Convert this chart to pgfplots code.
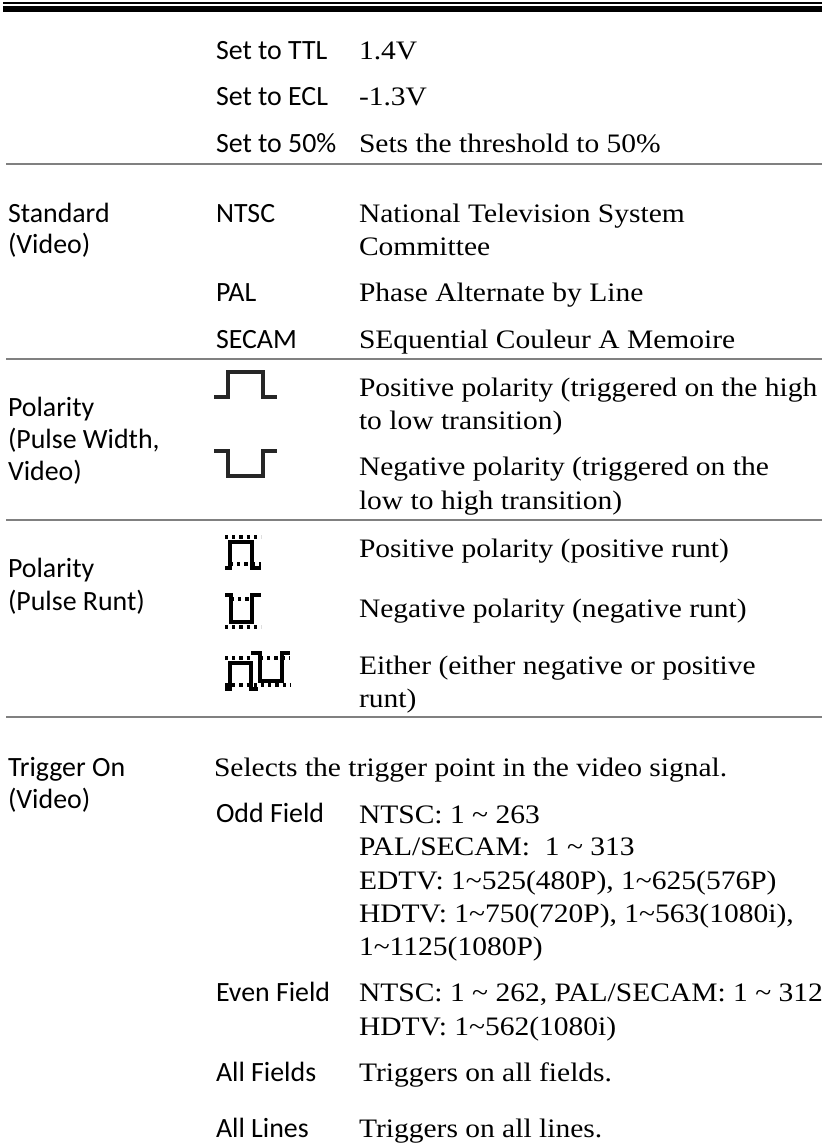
\documentclass[border=0pt]{standalone}
\usepackage{pgfplots}
\pgfplotsset{compat=1.18}
\usepackage{fontspec}
\setmainfont{Liberation Serif}
\newfontfamily\bodyf[FakeStretch=1.107]{Liberation Serif}
\newfontfamily\labf{Carlito}
\definecolor{rule}{gray}{0.5}
\newcommand{\B}[3]{\node[anchor=base west,inner sep=0pt,outer sep=0pt,font=\bodyf\fontsize{20pt}{24pt}\selectfont,text=black] at (axis cs:#1,#2) {#3};}
\newcommand{\Lb}[3]{\node[anchor=base west,inner sep=0pt,outer sep=0pt,font=\labf\fontsize{20.9pt}{24pt}\selectfont,text=black] at (axis cs:#1,#2) {#3};}
\tikzset{dots/.style={black,line width=2.5pt,dash pattern=on 2.4pt off 3pt}}
\begin{document}
\begin{tikzpicture}
\begin{axis}[
  scale only axis, width=616.5pt, height=858.75pt,
  xmin=0, xmax=822, ymin=0, ymax=1145, y dir=reverse,
  axis line style={draw=none}, tick style={draw=none}, ticks=none,
  clip=false,
]
% header rules
\addplot[black,line width=1.5pt] coordinates {(3,3) (822,3)};
\addplot[black,line width=4.5pt] coordinates {(3,9) (822,9)};
% separators
\addplot[rule,line width=1.5pt] coordinates {(6,164) (822,164)};
\addplot[rule,line width=1.5pt] coordinates {(6,359) (822,359)};
\addplot[rule,line width=1.5pt] coordinates {(6,520) (822,520)};
\addplot[rule,line width=1.5pt] coordinates {(6,717) (822,717)};
% icons
\addplot[black!85,line width=3pt] coordinates {(214,397) (228,397) (228,372) (263,372) (263,397) (277,397)};
\addplot[black!85,line width=3pt] coordinates {(214,451) (228,451) (228,476) (263,476) (263,451) (277,451)};
% runt positive
\addplot[dots] coordinates {(225,537) (261,537)};
\addplot[black,line width=2.6pt] coordinates {(225,568) (230,568) (230,542) (252,542) (252,568) (261,568)};
\addplot[dots] coordinates {(230,564) (261,564)};
% runt negative
\addplot[black,line width=2.6pt] coordinates {(225,595) (231,595) (231,622) (252,622) (252,595) (261,595)};
\addplot[dots] coordinates {(231,599) (252,599)};
\addplot[dots] coordinates {(225,627) (261,627)};
% either
\addplot[dots] coordinates {(225,658) (251,658)};
\addplot[dots] coordinates {(260,658) (290,658)};
\addplot[black,line width=2.6pt] coordinates {(225,689) (230,689) (230,663) (251,663) (251,689) (258,689)};
\addplot[black,line width=2.6pt] coordinates {(251,653) (260,653) (260,681) (282,681) (282,653) (290,653)};
\addplot[dots] coordinates {(225,685) (290,685)};
% left labels
\Lb{8}{222}{Standard}
\Lb{8}{253}{(Video)}
\Lb{8}{416}{Polarity}
\Lb{8}{448}{(Pulse Width,}
\Lb{8}{480}{Video)}
\Lb{8}{577}{Polarity}
\Lb{8}{610}{(Pulse Runt)}
\Lb{8}{776}{Trigger On}
\Lb{8}{808}{(Video)}
% middle labels
\Lb{216}{60}{Set to TTL}
\Lb{216}{106}{Set to ECL}
\Lb{216}{152}{Set to 50\%}
\Lb{216}{222}{NTSC}
\Lb{216}{301}{PAL}
\Lb{216}{348}{SECAM}
\Lb{216}{822}{Odd Field}
\Lb{216}{1001}{Even Field}
\Lb{216}{1081}{All Fields}
\Lb{216}{1137}{All Lines}
% body
\B{359}{60}{1.4V}
\B{359}{106}{-1.3V}
\B{359}{152}{Sets the threshold to 50\%}
\B{359}{222}{National Television System}
\B{359}{255}{Committee}
\B{359}{301}{Phase Alternate by Line}
\B{359}{348}{SEquential Couleur A Memoire}
\B{359}{396}{Positive polarity (triggered on the high}
\B{359}{429}{to low transition)}
\B{359}{475}{Negative polarity (triggered on the}
\B{359}{509}{low to high transition)}
\B{359}{557}{Positive polarity (positive runt)}
\B{359}{617}{Negative polarity (negative runt)}
\B{359}{674}{Either (either negative or positive}
\B{359}{707}{runt)}
\B{214}{776}{Selects the trigger point in the video signal.}
\B{359}{823}{NTSC: 1 \textasciitilde{} 263}
\B{359}{855}{PAL/SECAM:\ \ 1 \textasciitilde{} 313}
\B{359}{889}{EDTV: 1\textasciitilde{}525(480P), 1\textasciitilde{}625(576P)}
\B{359}{922}{HDTV: 1\textasciitilde{}750(720P), 1\textasciitilde{}563(1080i),}
\B{359}{955}{1\textasciitilde{}1125(1080P)}
\B{359}{1001}{NTSC: 1 \textasciitilde{} 262, PAL/SECAM: 1 \textasciitilde{} 312}
\B{359}{1035}{HDTV: 1\textasciitilde{}562(1080i)}
\B{359}{1081}{Triggers on all fields.}
\B{359}{1137}{Triggers on all lines.}
\end{axis}
\end{tikzpicture}
\end{document}
